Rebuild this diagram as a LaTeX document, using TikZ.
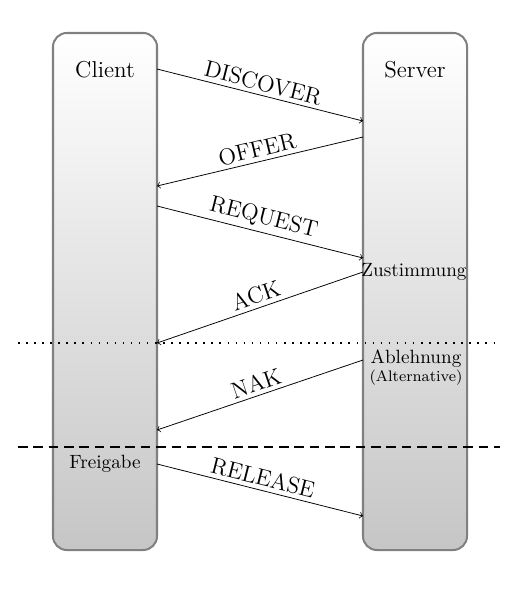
\documentclass[tikz,border=0pt]{standalone}
\begin{document}
\begin{tikzpicture}[x=1cm/54.6, y=-1cm/54.6,
  lane/.style={draw=gray, line width=1.05pt, rounded corners=7.2pt,
    top color=white, bottom color=gray!45, minimum width=1.905cm,
    minimum height=9.469cm, inner sep=0pt},
  msg/.style={->},
  lbl/.style={font=\large, above, sloped, midway, inner sep=2pt},
  sep/.style={line width=0.7pt}
]
\useasboundingbox (0,0) rectangle (528,606);
\node[lane] (client) at (105,291.5) {};
\node[lane] (server) at (415,291.5) {};
\node[font=\large] (clientlbl) at (105,70) {Client};
\node[font=\large] (serverlbl) at (415,70) {Server};
\node (zust) at (414,272) {Zustimmung};
\node (abl) at (416,359) {Ablehnung};
\node[font=\footnotesize] (alt) at (416,378) {(Alternative)};
\node (frei) at (105,464) {Freigabe};
% endpoints
\coordinate (c1) at (157,69);
\coordinate (s1) at (363,121);
\coordinate (s2) at (363,137);
\coordinate (c2) at (157,186);
\coordinate (c3) at (157,206);
\coordinate (s3) at (363,258);
\coordinate (s4) at (363,272);
\coordinate (c4) at (157,343);
\coordinate (s5) at (363,360);
\coordinate (c5) at (157,430);
\coordinate (c6) at (157,464);
\coordinate (s6) at (363,516);
\draw[msg] (c1) -- node[lbl] {DISCOVER} (s1);
\draw[msg] (s2) -- node[lbl] {OFFER} (c2);
\draw[msg] (c3) -- node[lbl] {REQUEST} (s3);
\draw[msg] (s4) -- node[lbl] {ACK} (c4);
\draw[msg] (s5) -- node[lbl] {NAK} (c5);
\draw[msg] (c6) -- node[lbl] {RELEASE} (s6);
% separators
\coordinate (dl) at (18,343);
\coordinate (dr) at (500,343);
\coordinate (el) at (18,447);
\coordinate (er) at (500,447);
\draw[sep, dash pattern=on 0.8pt off 3.4pt] (dl) -- (dr);
\draw[sep, dash pattern=on 5pt off 3pt] (el) -- (er);
\end{tikzpicture}
\end{document}
